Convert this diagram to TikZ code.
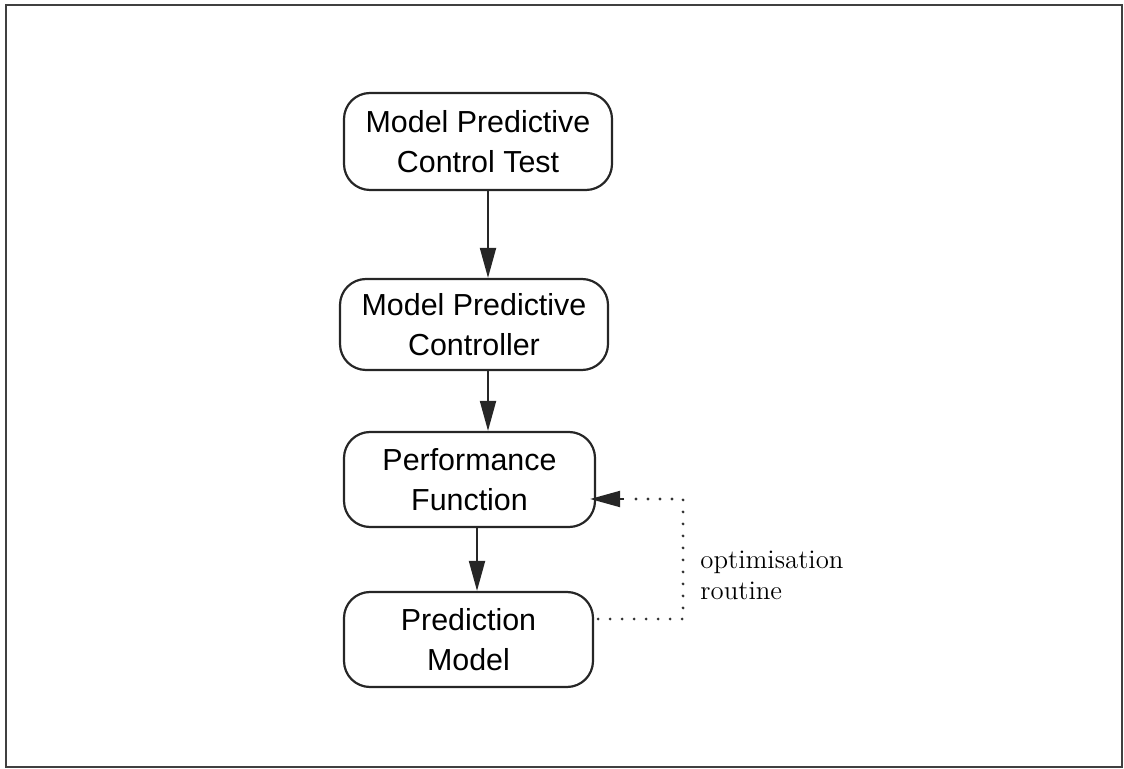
\documentclass[tikz,border=0pt]{standalone}
\usepackage{fontspec}
\newfontfamily\helv{Liberation Sans}
\usetikzlibrary{arrows.meta,calc}
\begin{document}
\begin{tikzpicture}[x=0.5pt,y=-0.5pt,
  box/.style={draw=black!85, line width=1.1pt, rounded corners=13pt,
    font=\helv\fontsize{15.2}{20}\selectfont, align=center, inner sep=0pt},
  arr/.style={line width=1pt, draw=black!85, fill=black!85,
    -{Triangle[length=15pt,width=8pt]}},
  dots/.style={line width=1.6pt, line cap=round, dash pattern=on 0pt off 6pt, draw=black!80},
  lbl/.style={font=\fontsize{13.4}{16}\selectfont, align=left, inner sep=0pt}]
\useasboundingbox (0,0) rectangle (1124,769);
\draw[line width=1.3pt, draw=black!75] (6,5) rectangle (1122,767);
\node[box, minimum width=134pt, minimum height=48.5pt] (b1) at (478,141.5) {Model Predictive\\Control Test};
\node[box, minimum width=134pt, minimum height=45.5pt] (b2) at (474,324.5) {Model Predictive\\Controller};
\node[box, minimum width=125.5pt, minimum height=47.5pt] (b3) at (469.5,479.5) {Performance\\Function};
\node[box, minimum width=124.5pt, minimum height=47.5pt] (b4) at (468.5,639.5) {Prediction\\Model};
\draw[arr] ([xshift=5pt]b1.south) -- ([xshift=5pt]b1.south |- b2.north);
\draw[arr] ([xshift=7pt]b2.south) -- ([xshift=7pt]b2.south |- b3.north);
\draw[arr] ([xshift=3.75pt]b3.south) -- ([xshift=3.75pt]b3.south |- b4.north);
\coordinate (c1) at (683,619);
\coordinate (c2) at (683,499);
\draw[dots] ([xshift=2pt,yshift=10.25pt]b4.east) -- (c1) -- (c2) -- ([xshift=18pt,yshift=-9.75pt]b3.east);
\draw[arr] ([xshift=14pt,yshift=-9.75pt]b3.east) -- ([xshift=-3pt,yshift=-9.75pt]b3.east);
\node[lbl, anchor=base west] (lab) at (700,600) {optimisation\\routine};
\end{tikzpicture}
\end{document}
